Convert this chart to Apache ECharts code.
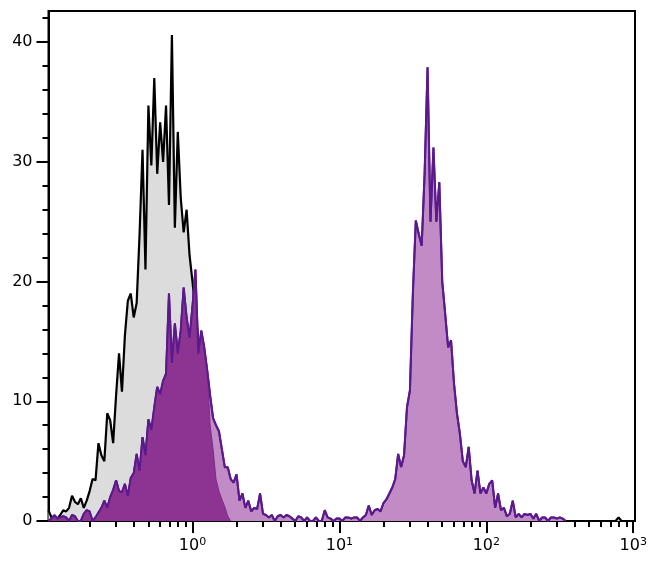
<!DOCTYPE html>
<html>
<head>
<meta charset="utf-8">
<script src="https://cdn.jsdelivr.net/npm/echarts@6/dist/echarts.min.js"></script>
<style>
  html, body { margin: 0; padding: 0; background: #ffffff; }
  #chart { width: 650px; height: 575px; }
</style>
</head>
<body>
<div id="chart"></div>
<script>
// Histogram bins: log10(fluorescence intensity) channel grid
const binStartLog = -0.98;
const binWidthLog = 0.02;

// Isotype control (grey fill, black outline)
const isotypeCounts = [
  0.9,0.3,0.4,0.2,0.5,0.9,0.8,1.1,2.1,1.6,
  1.4,1.9,1.1,1.7,2.5,3.5,3.4,6.5,5.5,5.0,
  9.0,8.4,6.5,10.5,14.0,10.8,15.5,18.4,19.0,17.0,
  18.2,24.0,31.0,21.0,34.7,29.7,37.0,29.0,33.3,30.0,
  34.7,26.4,40.6,24.5,32.5,27.0,24.1,26.0,22.2,20.0,
  17.5,15.0,12.5,10.0,8.0,6.0,4.5,3.0,2.0,1.2,
  0.6,0.3,0,0,0,0,0,0,0,0,
  0,0,0,0,0,0,0,0,0,0,
  0,0,0,0,0,0,0,0,0,0,
  0,0,0,0,0,0,0,0,0,0,
  0,0,0,0,0,0,0,0,0,0,
  0,0,0,0,0,0,0,0,0,0,
  0,0,0,0,0,0,0,0,0,0,
  0,0,0,0,0,0,0,0,0,0,
  0,0,0,0,0,0,0,0,0,0,
  0,0,0,0,0,0,0,0,0,0,
  0,0,0,0,0,0,0,0,0,0,
  0,0,0,0,0,0,0,0,0,0,
  0,0,0,0,0,0,0,0,0,0,
  0,0,0,0,0.3,0,0,0,0,0
];

// Stained sample (lavender fill, violet outline)
const stainedCounts = [
  0,0.2,0.5,0.2,0.3,0.4,0.3,0,0.5,0.4,
  0,0,0.6,0.9,0.8,0,0.3,0.7,1.1,1.7,
  1.1,2.0,2.6,3.4,2.5,2.4,3.1,2.1,3.6,4.0,
  5.6,4.2,7.0,5.5,8.5,7.6,9.5,11.2,10.6,11.7,
  12.3,19.0,13.2,16.5,14.0,15.9,19.5,17.0,15.3,17.9,
  21.0,14.0,15.9,14.5,12.6,10.5,8.6,8.0,7.5,6.0,
  4.5,4.5,3.5,3.2,3.9,1.7,2.3,1.1,1.7,0.8,
  1.1,1.0,2.3,0.6,0.5,0.3,0.5,0,0.4,0.5,
  0.3,0.5,0.4,0.2,0,0.4,0.3,0,0.3,0,
  0,0.3,0,0,0.9,0.3,0.2,0,0.2,0.2,
  0,0.3,0.3,0.2,0.3,0.3,0,0.3,0.5,1.3,
  0.5,0.9,1.0,0.8,1.5,1.8,2.3,2.8,3.5,5.6,
  4.5,5.5,9.5,10.9,19.0,25.1,24.0,23.0,29.0,37.9,
  25.0,31.2,25.0,28.3,20.0,17.3,14.5,15.1,11.5,9.0,
  7.3,5.0,4.5,6.2,3.4,2.3,4.2,2.3,2.8,2.3,
  3.1,3.4,1.1,2.3,0.9,1.1,0.4,0.6,1.7,0.3,
  0.6,0.3,0.6,0.5,0.6,0.2,0.6,0,0.3,0.3,
  0,0.3,0.3,0.2,0.3,0.2,0
];

// Dim population (dark magenta fill): follows the stained outline, shorter tail
const dimHeadCount = 55;
const dimTail = [8.0,6.0,3.5,2.5,1.8,1.2,0.4,0];
const dimCounts = stainedCounts.slice(0, dimHeadCount).concat(dimTail);

// Axis tick labels
const xMajorDecades = [0, 1, 2, 3];
const yMajorTicks = [0, 10, 20, 30, 40];
const yMinorTicks = [2,4,6,8,12,14,16,18,22,24,26,28,32,34,36,38,42];

const xMin = -0.98, xMax = 3.012;
const yMin = 0, yMax = 42.6;

function toPairs(counts) {
  return counts.map((c, i) => [binStartLog + i * binWidthLog, c]);
}

const xMinorTicks = [];
for (let d = -1; d <= 2; d++) {
  for (let k = 2; k <= 9; k++) {
    const v = d + Math.log10(k);
    if (v >= xMin && v <= xMax) xMinorTicks.push(v);
  }
}

const FONT = 'DejaVu Sans';
const chart = echarts.init(document.getElementById('chart'), null, { renderer: 'canvas' });

chart.setOption({
  animation: false,
  backgroundColor: '#ffffff',
  grid: {
    left: 48.5, right: 15, top: 11, bottom: 54,
    show: true, borderColor: '#000', borderWidth: 2, backgroundColor: 'transparent'
  },
  xAxis: [
    {
      type: 'value', min: xMin, max: xMax, position: 'bottom',
      axisLine: { show: true, onZero: false, lineStyle: { color: '#000', width: 2 } },
      axisTick: { show: true, length: 12, inside: false, customValues: xMajorDecades, lineStyle: { color: '#000', width: 2 } },
      axisLabel: {
        show: true, customValues: xMajorDecades, margin: 16,
        formatter: v => '{b|10}{s|' + Math.round(v) + '}',
        rich: {
          b: { fontFamily: FONT, fontSize: 16, color: '#000' },
          s: { fontFamily: FONT, fontSize: 11, color: '#000', padding: [0, 0, 7, 0] }
        }
      },
      splitLine: { show: false }
    },
    {
      type: 'value', min: xMin, max: xMax, position: 'bottom', gridIndex: 0,
      axisLine: { show: false, onZero: false },
      axisTick: { show: true, length: 6, inside: false, customValues: xMinorTicks, lineStyle: { color: '#000', width: 2 } },
      axisLabel: { show: false },
      splitLine: { show: false }
    }
  ],
  yAxis: [
    {
      type: 'value', min: yMin, max: yMax, position: 'left',
      axisLine: { show: true, onZero: false, lineStyle: { color: '#000', width: 2 } },
      axisTick: { show: true, length: 12, customValues: yMajorTicks, lineStyle: { color: '#000', width: 2 } },
      axisLabel: { show: true, customValues: yMajorTicks, margin: 16, fontFamily: FONT, fontSize: 16, color: '#000' },
      splitLine: { show: false }
    },
    {
      type: 'value', min: yMin, max: yMax, position: 'left', gridIndex: 0,
      axisLine: { show: false, onZero: false },
      axisTick: { show: true, length: 6, customValues: yMinorTicks, lineStyle: { color: '#000', width: 2 } },
      axisLabel: { show: false },
      splitLine: { show: false }
    }
  ],
  series: [
    {
      name: 'Isotype', type: 'line', data: toPairs(isotypeCounts), z: 2,
      showSymbol: false, symbol: 'none', smooth: false, sampling: null,
      lineStyle: { color: '#000', width: 2.2 },
      areaStyle: { color: '#dcdcdc', opacity: 1 }
    },
    {
      name: 'Stained', type: 'line', data: toPairs(stainedCounts), z: 3,
      showSymbol: false, symbol: 'none', smooth: false,
      lineStyle: { color: '#5a198c', width: 2 },
      areaStyle: { color: '#c18bc5', opacity: 1 }
    },
    {
      name: 'Dim', type: 'line', data: toPairs(dimCounts), z: 4,
      showSymbol: false, symbol: 'none', smooth: false,
      lineStyle: { color: '#7e2a8e', width: 1 },
      areaStyle: { color: '#8d3492', opacity: 1 }
    },
    {
      name: 'Stained outline', type: 'line', data: toPairs(stainedCounts), z: 5,
      showSymbol: false, symbol: 'none', smooth: false,
      lineStyle: { color: '#5a198c', width: 2 }
    }
  ]
});
</script>
</body>
</html>
